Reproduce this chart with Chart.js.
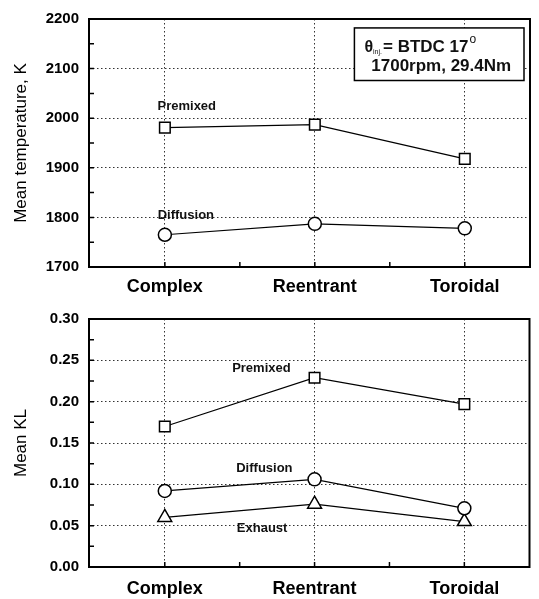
<!DOCTYPE html>
<html>
<head>
<meta charset="utf-8">
<script src="https://cdn.jsdelivr.net/npm/chart.js@4"></script>
<style>
  body { margin: 0; background: #fff; }
  canvas { position: absolute; left: 0; }
</style>
</head>
<body>
<canvas id="tempChart" width="539" height="300" style="top:0"></canvas>
<canvas id="klChart" width="539" height="299" style="top:300px"></canvas>
<script>
const chambers = ['Complex', 'Reentrant', 'Toroidal'];

const tempPremixed = [1981, 1987, 1918];
const tempDiffusion = [1765, 1787, 1778];
const tempTicks = [1700, 1800, 1900, 2000, 2100, 2200];

const klPremixed = [0.170, 0.229, 0.197];
const klDiffusion = [0.092, 0.106, 0.071];
const klExhaust = [0.060, 0.076, 0.055];
const klTicks = [0, 0.05, 0.10, 0.15, 0.20, 0.25, 0.30];

const FONT = '"Liberation Sans", Arial, sans-serif';

const toXY = vals => vals.map((v, i) => ({ x: i + 1, y: v }));

function series(vals, style, radius) {
    return {
        data: toXY(vals),
        borderColor: '#000',
        borderWidth: 1.2,
        pointStyle: style,
        pointRadius: radius,
        pointBorderWidth: 1.5,
        pointBorderColor: '#000',
        pointBackgroundColor: '#fff',
        tension: 0
    };
}

// frame, inward ticks, text notes and the condition box
const notesPlugin = {
    id: 'notes',
    afterDraw(chart, args, opts) {
        const { ctx, chartArea: a, scales: { x, y } } = chart;
        ctx.save();
        ctx.strokeStyle = '#000';
        ctx.lineWidth = 1.5;
        ctx.beginPath();
        const n = Math.round((opts.yMax - opts.yMin) / opts.yMinor);
        for (let i = 0; i <= n; i++) {
            const py = y.getPixelForValue(opts.yMin + i * opts.yMinor);
            ctx.moveTo(a.left, py);
            ctx.lineTo(a.left + 5, py);
        }
        for (let v = 1; v <= 3; v += 0.5) {
            const px = x.getPixelForValue(v);
            ctx.moveTo(px, a.bottom);
            ctx.lineTo(px, a.bottom - 5);
        }
        ctx.stroke();
        ctx.lineWidth = 2;
        ctx.strokeRect(a.left, a.top, a.width, a.height);

        ctx.fillStyle = '#111';
        ctx.font = 'bold 13px ' + FONT;
        ctx.textAlign = 'center';
        ctx.textBaseline = 'middle';
        opts.labels.forEach(l => {
            ctx.fillText(l.text, x.getPixelForValue(l.x), y.getPixelForValue(l.y));
        });

        if (opts.box) {
            const b = opts.box;
            const x1 = x.getPixelForValue(b.x1), x2 = x.getPixelForValue(b.x2);
            const y1 = y.getPixelForValue(b.y1), y2 = y.getPixelForValue(b.y2);
            ctx.fillStyle = '#fff';
            ctx.fillRect(x1, y1, x2 - x1, y2 - y1);
            ctx.lineWidth = 1.5;
            ctx.strokeRect(x1, y1, x2 - x1, y2 - y1);
            ctx.fillStyle = '#111';
            const cx = (x1 + x2) / 2;
            const l1 = y1 + (y2 - y1) * 0.365;
            const l2 = y1 + (y2 - y1) * 0.735;
            // line 1: θ_inj = BTDC 17°
            ctx.textAlign = 'left';
            let px = x1 + 10;
            ctx.font = 'bold 16px ' + FONT;
            ctx.fillText('\u03b8', px, l1);
            px += ctx.measureText('\u03b8').width;
            ctx.font = '7px ' + FONT;
            ctx.fillText('inj.', px, l1 + 5);
            px += ctx.measureText('inj.').width + 1;
            ctx.font = 'bold 17px ' + FONT;
            ctx.fillText('= BTDC 17', px, l1);
            px += ctx.measureText('= BTDC 17').width + 1;
            ctx.font = '12px ' + FONT;
            ctx.fillText('o', px, l1 - 7);
            // line 2
            ctx.textAlign = 'center';
            ctx.font = 'bold 17px ' + FONT;
            ctx.fillText('1700rpm, 29.4Nm', cx + 2, l2);
        }
        ctx.restore();
    }
};

function makeChart(id, datasets, yTicks, yTitle, fmt, xPad, notes) {
    return new Chart(document.getElementById(id), {
        type: 'line',
        data: { datasets: datasets },
        plugins: [notesPlugin],
        options: {
            responsive: false,
            animation: false,
            layout: { padding: { top: 13, right: 8, left: 0, bottom: 0 } },
            scales: {
                x: {
                    type: 'linear',
                    min: 0.494,
                    max: 3.435,
                    afterBuildTicks: s => { s.ticks = [1, 2, 3].map(v => ({ value: v })); },
                    afterFit: s => { s.height = xPad.h; },
                    ticks: {
                        callback: v => chambers[v - 1],
                        color: '#000',
                        font: { family: FONT, size: 18, weight: 'bold' },
                        padding: xPad.p,
                        maxRotation: 0
                    },
                    grid: { color: '#333', lineWidth: 1, drawTicks: false },
                    border: { display: false, dash: [1.5, 2.5] }
                },
                y: {
                    min: yTicks[0],
                    max: yTicks[yTicks.length - 1],
                    afterBuildTicks: s => { s.ticks = yTicks.map(v => ({ value: v })); },
                    afterFit: s => { s.width = 89; },
                    ticks: {
                        callback: fmt,
                        color: '#000',
                        font: { family: FONT, size: 15, weight: 'bold' },
                        padding: 10
                    },
                    title: {
                        display: true,
                        text: yTitle,
                        color: '#000',
                        font: { family: FONT, size: 17 },
                        padding: { top: 11, bottom: 0 }
                    },
                    grid: { color: '#333', lineWidth: 1, drawTicks: false },
                    border: { display: false, dash: [1.5, 2.5] }
                }
            },
            plugins: {
                legend: { display: false },
                tooltip: { enabled: false },
                notes: notes
            }
        }
    });
}

makeChart('tempChart',
    [series(tempPremixed, 'rect', 7.5), series(tempDiffusion, 'circle', 6.5)],
    tempTicks, 'Mean temperature, K', v => v, { h: 33, p: 9 },
    {
        yMin: 1700, yMax: 2200, yMinor: 50,
        labels: [
            { text: 'Premixed', x: 1.146, y: 2023 },
            { text: 'Diffusion', x: 1.14, y: 1804 }
        ],
        box: { x1: 2.264, x2: 3.395, y1: 2182, y2: 2076 }
    });

makeChart('klChart',
    [series(klPremixed, 'rect', 7.5), series(klDiffusion, 'circle', 6.5), series(klExhaust, 'triangle', 8)],
    klTicks, 'Mean KL', v => v.toFixed(2), { h: 32, p: 11 },
    {
        yMin: 0, yMax: 0.30, yMinor: 0.025,
        labels: [
            { text: 'Premixed', x: 1.645, y: 0.240 },
            { text: 'Diffusion', x: 1.665, y: 0.119 },
            { text: 'Exhaust', x: 1.65, y: 0.047 }
        ]
    });
</script>
</body>
</html>
